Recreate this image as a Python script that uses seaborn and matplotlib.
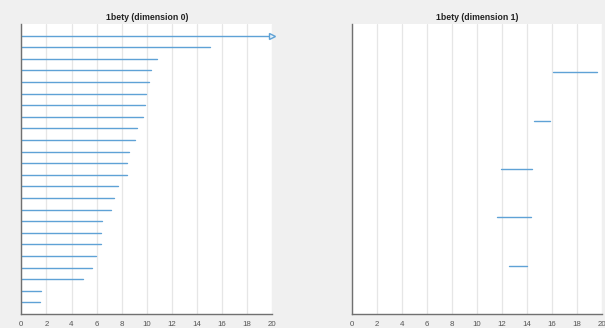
import numpy as np
import pandas as pd
import matplotlib
matplotlib.use("Agg")
import matplotlib.pyplot as plt
import seaborn as sns

# Persistence barcodes for 1bety
dim0_births = [0.0] * 24
dim0_deaths = [np.inf, 15.0, 10.8, 10.3, 10.2, 9.95, 9.85, 9.67, 9.24, 9.09,
               8.58, 8.42, 8.42, 7.68, 7.36, 7.17, 6.40, 6.38, 6.38, 5.95,
               5.63, 4.89, 1.54, 1.52]
dim1_births = [16.08, 14.51, 11.87, 11.58, 12.57]
dim1_deaths = [19.55, 15.79, 14.38, 14.30, 14.00]
titles = ["1bety (dimension 0)", "1bety (dimension 1)"]
xticks = list(range(0, 21, 2))
x_max = 20

bar_color = "#5fa2d6"
fig_bg = "#f0f0f0"

sns.set_style("white")
plt.rcParams["font.family"] = ["Liberation Sans", "DejaVu Sans"]

fig = plt.figure(figsize=(6.05, 3.28), dpi=100, facecolor=fig_bg)
axes = [fig.add_axes([0.0352, 0.0427, 0.415, 0.8841]),
        fig.add_axes([0.5818, 0.0427, 0.4137, 0.8841])]


def barcode_frame(births, deaths):
    rows = []
    for i, (b, d) in enumerate(zip(births, deaths), start=1):
        end = x_max if np.isinf(d) else d
        rows.append({"bar": i, "x": b, "y": i})
        rows.append({"bar": i, "x": end, "y": i})
    return pd.DataFrame(rows)


for ax, births, deaths, title in zip(axes, [dim0_births, dim1_births],
                                     [dim0_deaths, dim1_deaths], titles):
    df = barcode_frame(births, deaths)
    n = len(births)
    ax.set_facecolor("white")
    ax.grid(axis="x", color="#e6e6e6", lw=0.9)
    ax.set_axisbelow(True)
    sns.lineplot(data=df, x="x", y="y", units="bar", estimator=None,
                 sort=False, color=bar_color, lw=1.0, ax=ax, legend=False)
    # open-ended intervals get an arrow marker at the right edge
    for i, d in enumerate(deaths, start=1):
        if np.isinf(d):
            ax.plot([x_max], [i], marker=">", ms=4.5, mfc="#e8f2fa",
                    mec=bar_color, mew=1.0, clip_on=False, zorder=5)
    ax.set_xlim(0, x_max)
    ax.set_ylim(n + 1, 0)
    ax.set_xticks(xticks)
    ax.set_yticks([])
    ax.set_xlabel("")
    ax.set_ylabel("")
    ax.tick_params(axis="x", direction="in", length=2.5, width=0.6,
                   color="#707070", labelsize=5.7, labelcolor="#555555",
                   pad=5)
    for side in ["top", "right"]:
        ax.spines[side].set_visible(False)
    for side in ["left", "bottom"]:
        ax.spines[side].set_color("#707070")
        ax.spines[side].set_linewidth(1.0)
    ax.set_title(title, fontsize=6.3, fontweight="bold", color="#222222",
                 pad=3)

fig.savefig("out.png", dpi=100, facecolor=fig_bg)
